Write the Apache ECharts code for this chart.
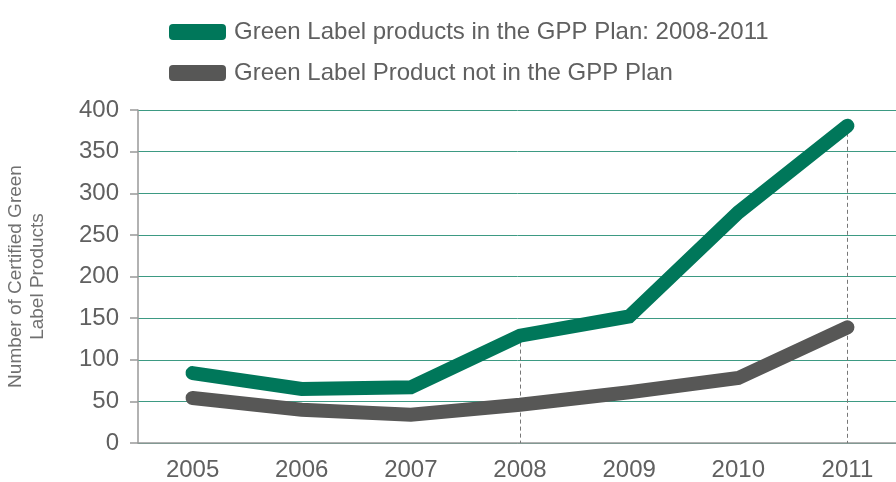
<!DOCTYPE html>
<html>
<head>
<meta charset="utf-8">
<script src="https://cdn.jsdelivr.net/npm/echarts@6/dist/echarts.min.js"></script>
<style>
	html, body { margin: 0; padding: 0; background: #fff; }
	#chart { width: 896px; height: 482px; }
</style>
</head>
<body>
<div id="chart"></div>
<script>
var years = ['2005', '2006', '2007', '2008', '2009', '2010', '2011'];
var inPlan = [84, 65, 67, 129, 152, 277, 381];
var notInPlan = [54, 40, 34, 46, 61, 78, 139];
var yTicks = [0, 50, 100, 150, 200, 250, 300, 350, 400];
var markYears = ['2008', '2011'];

var seriesNames = ['Green Label products in the GPP Plan: 2008-2011', 'Green Label Product not in the GPP Plan'];
var fontFamily = '"Liberation Sans", Arial, sans-serif';

var initChart = function() {
	var myChart = echarts.init(document.getElementById('chart'));

	// dashed drop lines from the green points to the axis
	var dropLines = [];
	for (var i = 0; i < markYears.length; i++) {
		var idx = years.indexOf(markYears[i]);
		dropLines.push([
			{ coord: [markYears[i], inPlan[idx]] },
			{ coord: [markYears[i], yTicks[0]] }
		]);
	}

	var option = {
		animation: false,
		color: ['#00775A', '#575756'],
		legend: {
			orient: 'vertical',
			left: 164,
			top: 15,
			itemWidth: 57,
			itemHeight: 16,
			itemGap: 17,
			icon: 'roundRect',
			textStyle: { fontFamily: fontFamily, fontSize: 24, color: '#606060', padding: [0, 0, 0, 3] },
			data: seriesNames
		},
		grid: { left: 138, top: 110, width: 764, height: 333, outerBoundsMode: 'none' },
		xAxis: {
			type: 'category',
			data: years,
			boundaryGap: true,
			axisLine: { lineStyle: { color: '#999', width: 1.5 } },
			axisTick: { show: false },
			axisLabel: { fontFamily: fontFamily, fontSize: 24, color: '#606060', margin: 15 }
		},
		yAxis: {
			type: 'value',
			min: yTicks[0],
			max: yTicks[yTicks.length - 1],
			interval: 50,
			name: 'Number of Certified Green\nLabel Products',
			nameLocation: 'middle',
			nameGap: 89,
			nameTextStyle: { fontFamily: fontFamily, fontSize: 19, color: '#707070', lineHeight: 22 },
			axisLine: { show: true, lineStyle: { color: '#999', width: 1.5 } },
			axisTick: { show: true, length: 8, lineStyle: { color: '#999', width: 1.5 } },
			axisLabel: { fontFamily: fontFamily, fontSize: 24, color: '#606060', margin: 19 },
			splitLine: { lineStyle: { color: '#3d9a83', width: 1 } }
		},
		series: [{
			name: seriesNames[0],
			type: 'line',
			data: inPlan,
			symbol: 'none',
			z: 3,
			lineStyle: { width: 14, cap: 'round', join: 'miter' },
			markLine: {
				silent: true,
				symbol: 'none',
				label: { show: false },
				lineStyle: { type: [4, 3], color: '#777', width: 1 },
				z: 1,
				data: dropLines
			}
		}, {
			name: seriesNames[1],
			type: 'line',
			data: notInPlan,
			symbol: 'none',
			z: 4,
			lineStyle: { width: 14, cap: 'round', join: 'miter' }
		}]
	};
	myChart.setOption(option);
	return myChart;
};

initChart();
</script>
</body>
</html>
